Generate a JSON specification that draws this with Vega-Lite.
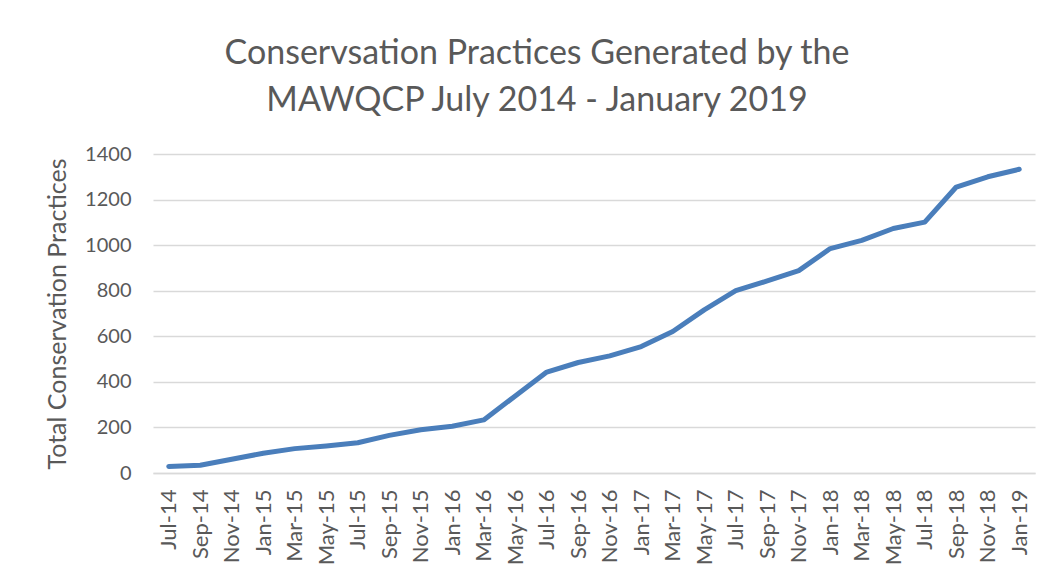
{
  "$schema": "https://vega.github.io/schema/vega-lite/v6.json",
  "autosize": {"type": "none"},
  "width": 882,
  "height": 319,
  "padding": {"left": 153, "top": 154, "right": 15, "bottom": 100},
  "background": "white",
  "title": {
    "text": ["Conservsation Practices Generated by the", "MAWQCP July 2014 - January 2019"],
    "font": "Lato",
    "fontSize": 34,
    "fontWeight": "normal",
    "color": "#595959",
    "anchor": "middle",
    "dx": -57,
    "offset": 26,
    "lineHeight": 47
  },
  "data": {
    "values": [
      {"month": "Jul-14", "practices": 29},
      {"month": "Sep-14", "practices": 34},
      {"month": "Nov-14", "practices": 60},
      {"month": "Jan-15", "practices": 87},
      {"month": "Mar-15", "practices": 107},
      {"month": "May-15", "practices": 119},
      {"month": "Jul-15", "practices": 133},
      {"month": "Sep-15", "practices": 165},
      {"month": "Nov-15", "practices": 190},
      {"month": "Jan-16", "practices": 205},
      {"month": "Mar-16", "practices": 233},
      {"month": "May-16", "practices": 338},
      {"month": "Jul-16", "practices": 443},
      {"month": "Sep-16", "practices": 485},
      {"month": "Nov-16", "practices": 514},
      {"month": "Jan-17", "practices": 555},
      {"month": "Mar-17", "practices": 621},
      {"month": "May-17", "practices": 716},
      {"month": "Jul-17", "practices": 800},
      {"month": "Sep-17", "practices": 843},
      {"month": "Nov-17", "practices": 888},
      {"month": "Jan-18", "practices": 985},
      {"month": "Mar-18", "practices": 1021},
      {"month": "May-18", "practices": 1073},
      {"month": "Jul-18", "practices": 1101},
      {"month": "Sep-18", "practices": 1255},
      {"month": "Nov-18", "practices": 1300},
      {"month": "Jan-19", "practices": 1333}
    ]
  },
  "mark": {"type": "line", "color": "#4a7ebb", "strokeWidth": 5, "strokeCap": "round", "strokeJoin": "round"},
  "encoding": {
    "x": {
      "field": "month",
      "type": "ordinal",
      "sort": null,
      "scale": {"type": "point", "padding": 0.5},
      "axis": {
        "title": null,
        "labelAngle": -90,
        "labelFont": "Lato",
        "labelFontSize": 22,
        "labelColor": "#595959",
        "labelPadding": 16,
        "ticks": false,
        "domainColor": "#d9d9d9",
        "domainWidth": 1.5,
        "grid": false
      }
    },
    "y": {
      "field": "practices",
      "type": "quantitative",
      "scale": {"domain": [0, 1400], "nice": false},
      "axis": {
        "title": "Total Conservation Practices",
        "titleFont": "Lato",
        "titleFontSize": 25,
        "titleFontWeight": "normal",
        "titleColor": "#595959",
        "titlePadding": 14,
        "values": [0, 200, 400, 600, 800, 1000, 1200, 1400],
        "format": "d",
        "labelFont": "Lato",
        "labelFontSize": 20,
        "labelColor": "#595959",
        "labelPadding": 22,
        "ticks": false,
        "domain": false,
        "gridColor": "#d9d9d9",
        "gridWidth": 1.5
      }
    }
  },
  "config": {"view": {"stroke": null}}
}
